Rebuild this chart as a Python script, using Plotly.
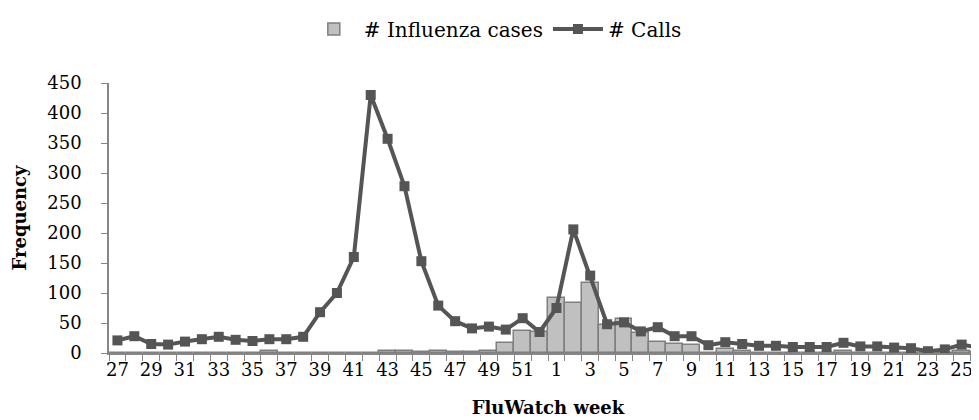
import plotly.graph_objects as go

# FluWatch weeks 27..52 then 1..26
weeks = [str(w) for w in list(range(27, 53)) + list(range(1, 27))]

calls = [21, 28, 15, 14, 19, 23, 27, 22, 20, 23, 23, 27, 68, 100, 160, 430, 357, 278,
         153, 79, 53, 41, 44, 39, 58, 35, 75, 206, 129, 48, 51, 36, 43, 28, 28,
         13, 18, 15, 12, 12, 10, 10, 10, 17, 11, 11, 9, 8, 3, 6, 14, 9]

flu_cases = [0, 0, 0, 0, 0, 0, 0, 0, 0, 4, 0, 0, 0, 0, 0, 0, 3, 4,
             2, 4, 2, 1, 4, 17, 37, 35, 92, 83, 117, 47, 57, 33, 19, 15, 13,
             0, 6, 4, 0, 0, 0, 0, 0, 4, 0, 0, 0, 0, 0, 0, 3, 2]

tick_text = [w if i % 2 == 0 else " " for i, w in enumerate(weeks)]

font_family = "DejaVu Serif"
axis_col = "#868686"

fig = go.Figure()
fig.add_trace(go.Bar(x=weeks, y=flu_cases, name="# Influenza cases",
                     marker=dict(color="#c0c0c0",
                                 line=dict(color="#7f7f7f", width=1.5))))
fig.add_trace(go.Scatter(x=weeks, y=calls, name="# Calls", mode="lines+markers",
                         line=dict(color="#555555", width=4),
                         marker=dict(symbol="square", size=10, color="#555555")))

fig.update_layout(
    width=979, height=420,
    margin=dict(l=101, r=0, t=75, b=75),
    plot_bgcolor="white", paper_bgcolor="white",
    font=dict(family=font_family, size=18, color="black"),
    bargap=0,
    showlegend=True,
    legend=dict(orientation="h", x=0.44, xanchor="center", y=1.2, yanchor="middle",
                font=dict(size=20), itemwidth=50),
)
fig.update_xaxes(type="category", categoryorder="array", categoryarray=weeks,
                 range=[-0.5, len(weeks) - 0.5],
                 tickmode="array", tickvals=weeks, ticktext=tick_text,
                 tickson="boundaries", ticks="outside", ticklen=6, tickcolor=axis_col,
                 tickangle=0, automargin=False,
                 showline=True, linecolor=axis_col, linewidth=1.5, showgrid=False,
                 title=dict(text="<b>FluWatch week</b>", font=dict(size=18), standoff=22))
fig.update_yaxes(range=[0, 450], dtick=50, ticks="outside", ticklen=6, tickcolor=axis_col,
                 ticklabelstandoff=16, automargin=False,
                 showline=True, linecolor=axis_col, linewidth=1.5, showgrid=False,
                 zeroline=False,
                 title=dict(text="<b>Frequency</b>", font=dict(size=18), standoff=16))

fig.write_html("out.html")
